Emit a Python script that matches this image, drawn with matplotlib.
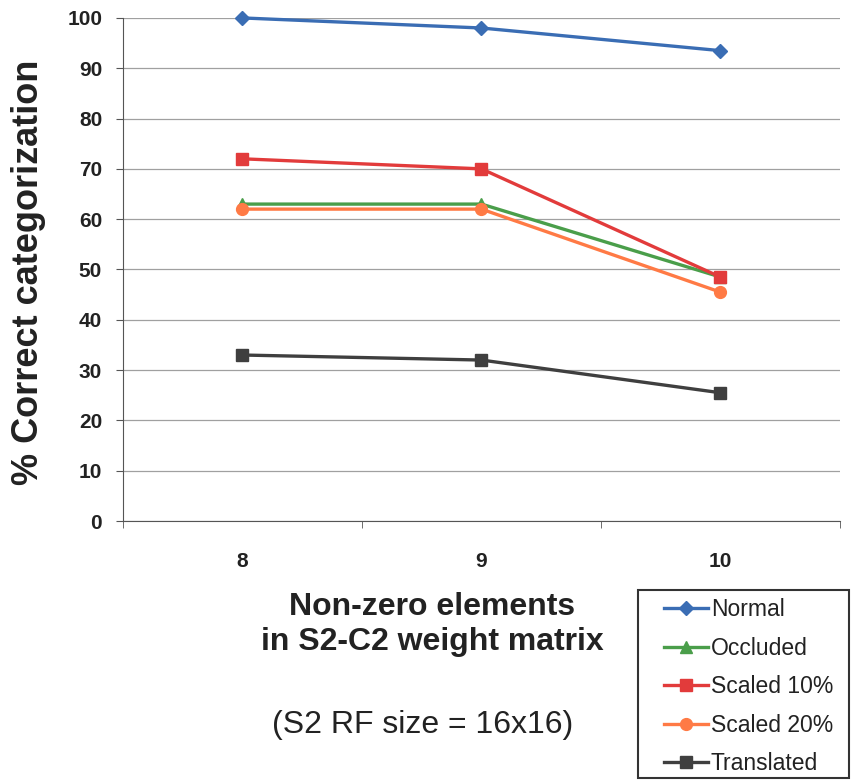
import matplotlib
matplotlib.use("Agg")
import matplotlib.pyplot as plt
from matplotlib.ticker import FixedLocator
from matplotlib.patches import Rectangle

plt.rcParams['font.family'] = ['Liberation Sans', 'DejaVu Sans']

categories = ["8", "9", "10"]
normal = [100, 98, 93.5]
occluded = [63, 63, 48.5]
scaled10 = [72, 70, 48.5]
scaled20 = [62, 62, 45.5]
translated = [33, 32, 25.5]

series = [
    ("Normal", normal, "#3A6DB4", "D", 7),
    ("Occluded", occluded, "#4A9E4A", "^", 8),
    ("Scaled 10%", scaled10, "#E23B3B", "s", 9),
    ("Scaled 20%", scaled20, "#FF7A45", "o", 8.5),
    ("Translated", translated, "#3F3F3F", "s", 8),
]

fig = plt.figure(figsize=(8.51, 7.80), dpi=100)
ax = fig.add_axes([0.1445, 0.332, 0.8425, 0.645])

x = list(range(len(categories)))
handles = []
for name, vals, color, marker, ms in series:
    h, = ax.plot(x, vals, color=color, marker=marker, markersize=ms,
                 linewidth=2.4, label=name, zorder=3, clip_on=False)
    handles.append(h)

ax.set_xlim(-0.5, len(categories) - 0.5)
ax.set_ylim(0, 100)
ax.set_yticks(range(0, 101, 10))
ax.set_xticks(x)
ax.set_xticklabels(categories)
ax.xaxis.set_minor_locator(FixedLocator([-0.5, 0.5, 1.5, 2.5]))
ax.tick_params(axis='x', which='major', length=0, pad=22, labelsize=15)
ax.tick_params(axis='x', which='minor', length=5, color='#555555')
ax.tick_params(axis='y', length=5, color='#555555', labelsize=15, pad=10)
for lab in ax.get_xticklabels() + ax.get_yticklabels():
    lab.set_fontweight('bold')
    lab.set_color('#222222')

ax.grid(axis='y', color='#a0a0a0', linewidth=0.9)
ax.set_axisbelow(True)
for s in ['top', 'right']:
    ax.spines[s].set_visible(False)
ax.spines['left'].set_color('#555555')
ax.spines['bottom'].set_color('#555555')

fig.text(0.034, 0.651, "% Correct categorization", rotation=90, ha='center',
         va='center', fontsize=26, fontweight='bold', color='#222222')
fig.text(0.508, 0.199, "Non-zero elements\nin S2-C2 weight matrix", ha='center',
         va='center', fontsize=23, fontweight='bold', color='#222222',
         linespacing=1.2)
fig.text(0.497, 0.071, "(S2 RF size = 16x16)", ha='center', va='center',
         fontsize=23, color='#222222')

# legend frame drawn separately so the box can be sized freely
fig.patches.append(Rectangle((638 / 851, 1 - 778 / 780), 211 / 851, 188 / 780,
                             transform=fig.transFigure, fill=False,
                             edgecolor='#333333', linewidth=1.5, zorder=5))
leg = fig.legend(handles=handles, loc='upper left',
                 bbox_to_anchor=(664 / 851, 1 - 598 / 780), fontsize=16.5,
                 frameon=False, handlelength=1.9, handletextpad=0.15,
                 labelspacing=0.68, borderpad=0, borderaxespad=0)
for t in leg.get_texts():
    t.set_color('#222222')

fig.savefig("out.png", dpi=100)
